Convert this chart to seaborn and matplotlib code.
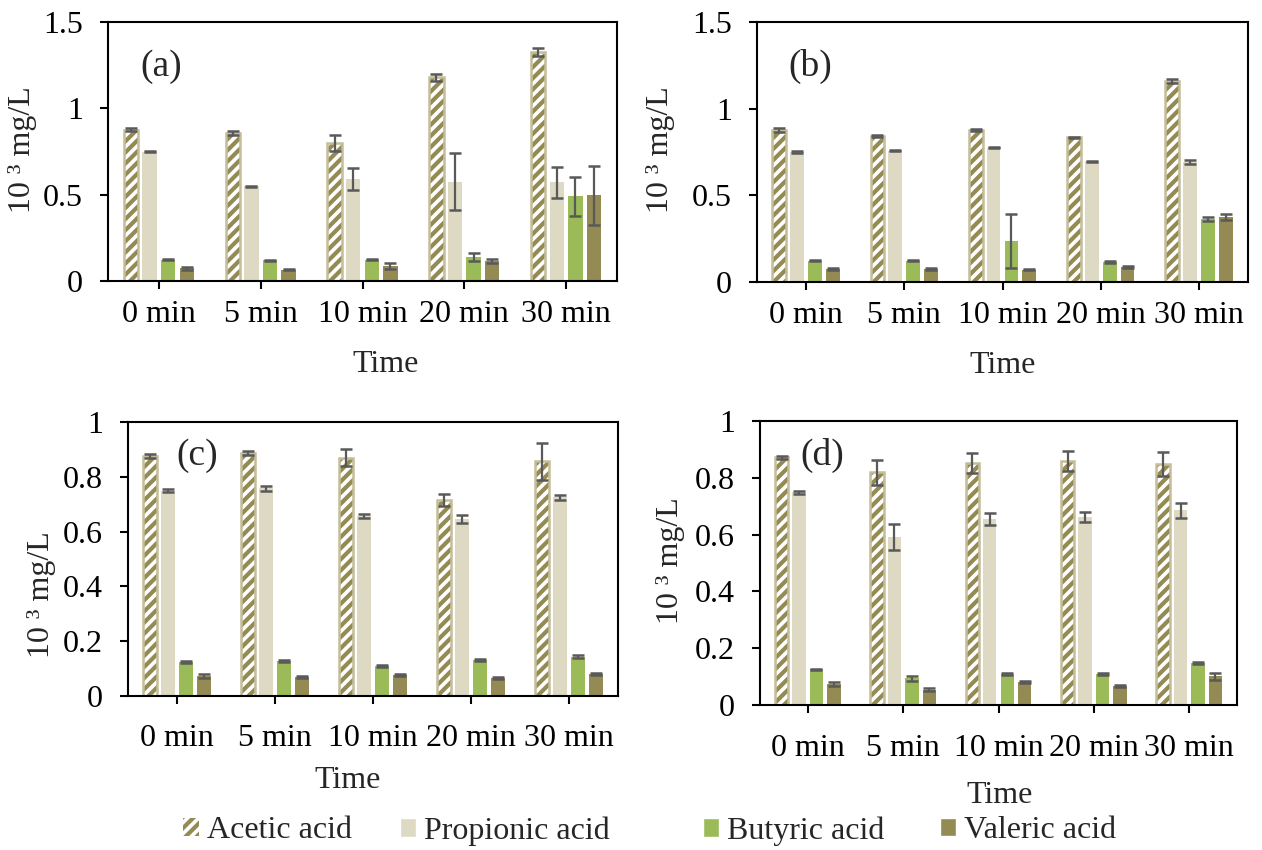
import matplotlib
matplotlib.use("Agg")
import matplotlib.pyplot as plt
import pandas as pd
import seaborn as sns
from matplotlib.patches import Patch, Rectangle
from matplotlib.ticker import FuncFormatter, MultipleLocator

# ---- data (10^3 mg/L) ----
times = ["0 min", "5 min", "10 min", "20 min", "30 min"]
acids = ["Acetic acid", "Propionic acid", "Butyric acid", "Valeric acid"]

# rows: acetic, propionic, butyric, valeric
means_a = [[0.877, 0.858, 0.798, 1.179, 1.327],
           [0.750, 0.550, 0.590, 0.575, 0.573],
           [0.123, 0.121, 0.123, 0.137, 0.490],
           [0.073, 0.065, 0.087, 0.115, 0.496]]
errs_a = [[0.007, 0.010, 0.045, 0.022, 0.022],
          [0.004, 0.003, 0.065, 0.165, 0.090],
          [0.004, 0.003, 0.003, 0.023, 0.113],
          [0.008, 0.004, 0.015, 0.010, 0.172]]

means_b = [[0.877, 0.840, 0.877, 0.835, 1.162],
           [0.750, 0.758, 0.775, 0.696, 0.692],
           [0.123, 0.123, 0.235, 0.115, 0.363],
           [0.075, 0.073, 0.071, 0.085, 0.377]]
errs_b = [[0.010, 0.006, 0.006, 0.004, 0.012],
          [0.006, 0.004, 0.004, 0.004, 0.010],
          [0.004, 0.004, 0.155, 0.004, 0.012],
          [0.008, 0.005, 0.004, 0.006, 0.017]]

means_c = [[0.875, 0.887, 0.870, 0.717, 0.857],
           [0.749, 0.758, 0.657, 0.647, 0.725],
           [0.124, 0.129, 0.109, 0.132, 0.144],
           [0.074, 0.070, 0.076, 0.067, 0.080]]
errs_c = [[0.007, 0.008, 0.030, 0.022, 0.068],
          [0.005, 0.008, 0.007, 0.015, 0.008],
          [0.003, 0.004, 0.003, 0.004, 0.004],
          [0.008, 0.003, 0.003, 0.004, 0.004]]

means_d = [[0.872, 0.819, 0.853, 0.859, 0.850],
           [0.749, 0.592, 0.655, 0.662, 0.685],
           [0.126, 0.094, 0.109, 0.109, 0.148],
           [0.073, 0.054, 0.080, 0.066, 0.101]]
errs_d = [[0.006, 0.045, 0.035, 0.035, 0.042],
          [0.005, 0.045, 0.020, 0.017, 0.028],
          [0.002, 0.008, 0.004, 0.003, 0.003],
          [0.007, 0.006, 0.004, 0.003, 0.013]]

# ---- styling ----
HATCH_COL = "#948A54"
ACETIC_EDGE = "#C4BD97"
palette = {"Acetic acid": "white", "Propionic acid": "#DDD9C3",
           "Butyric acid": "#9BBB59", "Valeric acid": "#948A54"}
ERR_COL = "#595959"

sns.set_style("ticks")
plt.rcParams["font.family"] = ["Liberation Serif", "DejaVu Serif"]
plt.rcParams["hatch.linewidth"] = 3.0

W, H = 1262, 850
fig = plt.figure(figsize=(W / 100, H / 100), dpi=100)


def px_axes(left, right, top, bottom):
    return fig.add_axes([left / W, 1 - bottom / H, (right - left) / W, (bottom - top) / H])


panels = [
    # means, errs, axes box (l, r, t, b), ymax, ystep, letter, letter pos, xlabel pos, ylabel pos, xtick pad
    (means_a, errs_a, (108, 617, 22, 281), 1.5, 0.5, "(a)", (0.104, 0.826), (0.546, -0.324), (-0.167, 0.506), 8),
    (means_b, errs_b, (757, 1248, 22, 282), 1.5, 0.5, "(b)", (0.108, 0.83), (0.5, -0.323), (-0.196, 0.51), 8),
    (means_c, errs_c, (128, 618, 422, 696), 1.0, 0.2, "(c)", (0.141, 0.876), (0.449, -0.307), (-0.176, 0.369), 14),
    (means_d, errs_d, (760, 1237, 421, 705), 1.0, 0.2, "(d)", (0.13, 0.88), (0.503, -0.32), (-0.187, 0.507), 15),
]

for means, errs, box, ymax, ystep, letter, lpos, xlpos, ylpos, xpad in panels:
    ax = px_axes(*box)
    rows = []
    for acid, vals in zip(acids, means):
        for t, v in zip(times, vals):
            rows.append({"Time": t, "acid": acid, "value": v})
    df = pd.DataFrame(rows)

    sns.barplot(data=df, x="Time", y="value", hue="acid", order=times, hue_order=acids,
                palette=palette, saturation=1, width=0.73, gap=0.23, errorbar=None,
                linewidth=0, legend=False, ax=ax)

    # hatched acetic bars: hatch in olive, thin tan outline on top
    for bar in ax.containers[0]:
        bar.set_hatch("///")
        bar.set_edgecolor(HATCH_COL)
        bar.set_linewidth(0)
        ax.add_patch(Rectangle(bar.get_xy(), bar.get_width(), bar.get_height(), fill=False,
                               edgecolor=ACETIC_EDGE, linewidth=1.8, zorder=bar.get_zorder() + 0.1))

    # error bars at the seaborn bar positions
    for cont, err in zip(ax.containers, errs):
        xs = [b.get_x() + b.get_width() / 2 for b in cont]
        ys = [b.get_height() for b in cont]
        ax.errorbar(xs, ys, yerr=err, fmt="none", ecolor=ERR_COL, elinewidth=1.6,
                    capsize=4.5, capthick=1.8, zorder=5)

    ax.set_xlim(-0.5, 4.5)
    ax.set_ylim(0, ymax)
    ax.yaxis.set_major_locator(MultipleLocator(ystep))
    ax.yaxis.set_major_formatter(FuncFormatter(lambda v, p: f"{v:g}"))
    for s in ax.spines.values():
        s.set_visible(True)
        s.set_linewidth(1.5)
        s.set_color("black")
    ax.tick_params(axis="both", direction="out", length=6, width=1.5, labelsize=23, colors="black")
    ax.tick_params(axis="y", pad=12)
    ax.tick_params(axis="x", pad=xpad)

    ax.set_xlabel("Time", fontsize=23)
    ax.xaxis.label.set_va("center")
    ax.xaxis.set_label_coords(*xlpos)
    ax.set_ylabel("10 ³ mg/L", fontsize=23)
    ax.yaxis.label.set_va("center")
    ax.yaxis.set_label_coords(*ylpos)

    ax.text(lpos[0], lpos[1], letter, transform=ax.transAxes, fontsize=27,
            ha="center", va="center")

# ---- legend along the bottom ----
handles = [Patch(facecolor="white", edgecolor=HATCH_COL, hatch="///", linewidth=0),
           Patch(facecolor=palette["Propionic acid"]),
           Patch(facecolor=palette["Butyric acid"]),
           Patch(facecolor=palette["Valeric acid"])]
legend_x = [183, 400, 703, 940]
for h, lab, x in zip(handles, acids, legend_x):
    fig.legend(handles=[h], labels=[lab], loc="center left", bbox_to_anchor=(x / W, 1 - 831 / H),
               frameon=False, fontsize=23, handlelength=0.5, handleheight=0.5,
               handletextpad=0.25, borderpad=0, borderaxespad=0)

fig.savefig("out.png", dpi=100)
